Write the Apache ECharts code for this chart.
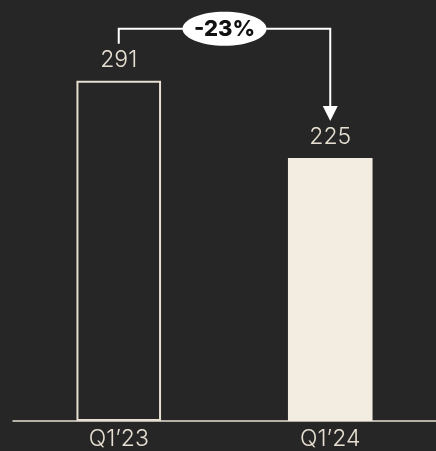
<!DOCTYPE html>
<html>
<head>
<meta charset="utf-8">
<script src="https://cdn.jsdelivr.net/npm/echarts@6/dist/echarts.min.js"></script>
<style>
  html, body { margin: 0; padding: 0; background: #262626; }
  #chart { width: 436px; height: 451px; }
</style>
</head>
<body>
<div id="chart"></div>
<script>
const categories = ['Q1\u201923', 'Q1\u201924']
const values = [291, 225]
const changeLabel = '-23%'

const cream = '#f3ece1'
const lineCream = '#e6dfd2'

const chart = echarts.init(document.getElementById('chart'))

const option = {
  backgroundColor: '#262626',
  animation: false,
  grid: { left: 13, right: -1, top: 0, bottom: 28, containLabel: false },
  xAxis: {
    type: 'category',
    data: categories,
    axisTick: { show: false },
    axisLine: { lineStyle: { color: lineCream, width: 1.5 } },
    axisLabel: {
      color: lineCream,
      fontSize: 23,
      fontFamily: 'Inter, Lato, sans-serif',
      fontWeight: 300,
      margin: 7
    }
  },
  yAxis: {
    type: 'value',
    min: 0,
    max: 360,
    show: false
  },
  series: [
    {
      type: 'bar',
      barWidth: '40%',
      data: [
        { value: values[0], itemStyle: { color: '#262626', borderColor: lineCream, borderWidth: 2 } },
        { value: values[1], itemStyle: { color: cream } }
      ],
      label: {
        show: true,
        position: 'top',
        distance: 9,
        color: lineCream,
        fontSize: 23,
        fontFamily: 'Inter, Lato, sans-serif',
        fontWeight: 300
      }
    },
    {
      // bracket with arrow and change pill
      type: 'custom',
      data: [[0, 1]],
      z: 10,
      renderItem: (params, api) => {
        const p0 = api.coord([0, values[0]])
        const p1 = api.coord([1, values[1]])
        const topY = p0[1] - 52
        const startY = p0[1] - 37
        const tipY = p1[1] - 37
        const midX = (p0[0] + p1[0]) / 2
        return {
          type: 'group',
          children: [
            {
              type: 'polyline',
              shape: { points: [[p0[0], startY], [p0[0], topY], [p1[0], topY], [p1[0], tipY - 14]] },
              style: { stroke: '#ffffff', lineWidth: 2, fill: null }
            },
            {
              type: 'polygon',
              shape: { points: [[p1[0] - 7.5, tipY - 15], [p1[0] + 7.5, tipY - 15], [p1[0], tipY]] },
              style: { fill: '#ffffff' }
            },
            {
              type: 'ellipse',
              shape: { cx: midX, cy: topY, rx: 42, ry: 17 },
              style: { fill: '#ffffff' }
            },
            {
              type: 'text',
              x: midX,
              y: topY + 1,
              style: {
                text: changeLabel,
                fill: '#111111',
                font: '800 22px Inter, Lato, sans-serif',
                align: 'center',
                verticalAlign: 'middle'
              }
            }
          ]
        }
      }
    }
  ]
}

chart.setOption(option)
window.addEventListener('resize', () => chart.resize())
</script>
</body>
</html>
